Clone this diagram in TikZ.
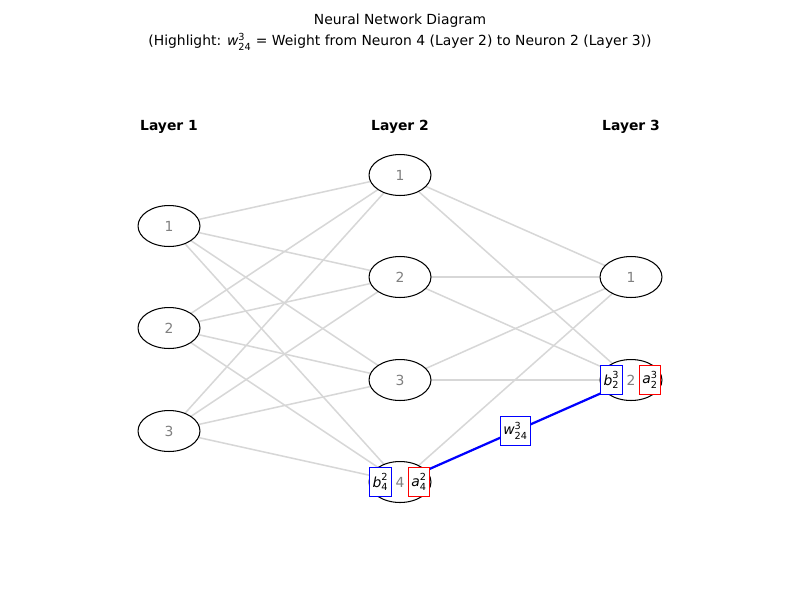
\documentclass[tikz,border=0pt]{standalone}
\usepackage{amsmath}
\usepackage{fontspec}
\setmainfont{DejaVu Sans}
\usetikzlibrary{calc,shapes.geometric}
\definecolor{edgegray}{RGB}{215,215,215}
\definecolor{labelgray}{RGB}{128,128,128}
\newcommand{\mvar}[3]{$\textit{#1}^{\text{#2}}_{\text{#3}}$}

\begin{document}
\begin{tikzpicture}[x=0.72pt, y=-0.72pt, font=\fontsize{10}{12}\selectfont,
	neuron/.style={draw=black, fill=white, line width=0.75pt, ellipse, minimum width=44.6pt, minimum height=29.5pt, inner sep=0pt, text=labelgray},
	biasbox/.style={draw=blue, fill=white, line width=0.75pt, inner sep=2.2pt, minimum height=20.5pt},
	actbox/.style={draw=red, fill=white, line width=0.75pt, inner sep=2.2pt, minimum height=20.5pt}]
	%%%%% START %%%%%
	
	\useasboundingbox (0, 0) rectangle (800, 600);
	
	\node (title1) at (400, 21) {Neural Network Diagram};
	\node (title2) at (400, 42) {(Highlight: \mvar{w}{3}{24} = Weight from Neuron 4 (Layer 2) to Neuron 2 (Layer 3))};
	
	\node[font=\fontsize{10}{12}\selectfont\bfseries] (lab1) at (169, 127) {Layer 1};
	\node[font=\fontsize{10}{12}\selectfont\bfseries] (lab2) at (400, 127) {Layer 2};
	\node[font=\fontsize{10}{12}\selectfont\bfseries] (lab3) at (631, 127) {Layer 3};
	
	\coordinate (c11) at (169, 226);
	\coordinate (c12) at (169, 328);
	\coordinate (c13) at (169, 431);
	\coordinate (c21) at (400, 175);
	\coordinate (c22) at (400, 277);
	\coordinate (c23) at (400, 380);
	\coordinate (c24) at (400, 482);
	\coordinate (c31) at (631, 277);
	\coordinate (c32) at (631, 380);
	
	\foreach \i in {1,2,3} {
		\foreach \j in {1,2,3,4} {
			\draw[edgegray, line width=1.1pt] (c1\i) -- (c2\j);
		}
	}
	\foreach \j in {1,2,3,4} {
		\foreach \k in {1,2} {
			\draw[edgegray, line width=1.1pt] (c2\j) -- (c3\k);
		}
	}
	
	\draw[blue, line width=1.6pt] (c24) -- (c32);
	
	\node[neuron] (n11) at (c11) {1};
	\node[neuron] (n12) at (c12) {2};
	\node[neuron] (n13) at (c13) {3};
	\node[neuron] (n21) at (c21) {1};
	\node[neuron] (n22) at (c22) {2};
	\node[neuron] (n23) at (c23) {3};
	\node[neuron] (n24) at (c24) {4};
	\node[neuron] (n31) at (c31) {1};
	\node[neuron] (n32) at (c32) {2};
	
	\node[biasbox] (b24) at (380.5, 482) {\mvar{b}{2}{4}};
	\node[actbox] (a24) at (419, 482) {\mvar{a}{2}{4}};
	\node[biasbox] (b32) at (611.5, 380) {\mvar{b}{3}{2}};
	\node[actbox] (a32) at (650, 380) {\mvar{a}{3}{2}};
	
	\node[biasbox] (w324) at ($(c24)!0.5!(c32)$) {\mvar{w}{3}{24}};
	
	%%%%% END %%%%%
\end{tikzpicture}
\end{document}
